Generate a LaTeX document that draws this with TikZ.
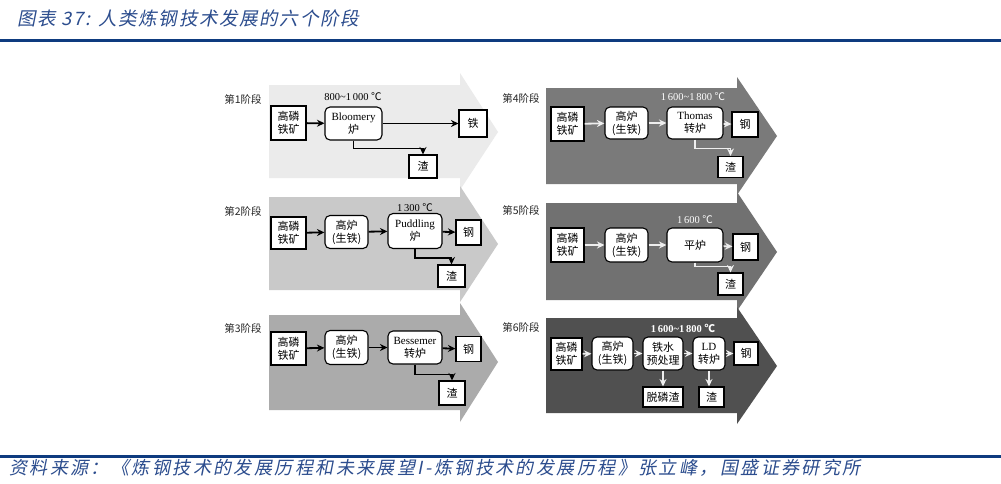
\documentclass[tikz,border=0pt]{standalone}
\usepackage{fontspec}
\setmainfont{Liberation Serif}
\newfontfamily\cjk{Noto Sans CJK SC}
\newfontfamily\cjkit[FakeSlant=0.2,LetterSpace=9]{Noto Sans CJK SC}
\newfontfamily\cjkfoot[FakeSlant=0.2,LetterSpace=13.5]{Noto Sans CJK SC}
\usetikzlibrary{arrows.meta,calc}
\definecolor{hdrblue}{HTML}{0E3B7F}
\definecolor{ttlblue}{HTML}{2C4D8E}
\definecolor{gA}{HTML}{EBEBEB}
\definecolor{gB}{HTML}{C9C9C9}
\definecolor{gC}{HTML}{ABABAB}
\definecolor{gD}{HTML}{7A7A7A}
\definecolor{gE}{HTML}{717171}
\definecolor{gF}{HTML}{505050}
\definecolor{wline}{HTML}{EEEEEE}
\begin{document}
\begin{tikzpicture}[x=1pt,y=-1pt,
  sq/.style={draw=black, fill=white, line width=1.1pt, inner sep=0pt, align=center,
             font=\cjk\fontsize{11}{13}\selectfont},
  rd/.style={sq, rounded corners=5pt},
  conn/.style={line width=1.8pt, -{Stealth[length=7.5pt,width=7pt]}},
  wconn/.style={conn, draw=wline},
  stage/.style={font=\cjk\fontsize{10.5}{12}\selectfont, text=black!85},
  temp/.style={font=\fontsize{10.5}{12}\selectfont, inner sep=0pt},
  ttl/.style={text=ttlblue, inner sep=0pt}
]
\useasboundingbox (0,0) rectangle (1001,483);
\fill[white] (0,0) rectangle (1001,483);

% header and footer
\node[ttl, anchor=west, font=\cjkit\fontsize{18.5}{21}\selectfont] (title) at (17,18) {图表 37: 人类炼钢技术发展的六个阶段};
\draw[hdrblue, line width=3pt] (0,40) -- (1001,40);
\draw[hdrblue, line width=3pt] (0,456) -- (1001,456);
\node[ttl, anchor=west, font=\cjkfoot\fontsize{18}{21}\selectfont] (src) at (9,468) {资料来源：《炼钢技术的发展历程和未来展望I-炼钢技术的发展历程》张立峰，国盛证券研究所};

% big arrows (left column)
\fill[gA] (269,85) -- (460,85) -- (460,73) -- (498,132) -- (460,190) -- (460,178) -- (269,178) -- cycle;
\fill[gB] (269,197) -- (460,197) -- (460,186) -- (498,244) -- (460,302) -- (460,290) -- (269,290) -- cycle;
\fill[gC] (269,315) -- (460,315) -- (460,303) -- (498,362) -- (460,422) -- (460,410) -- (269,410) -- cycle;
% big arrows (right column)
\fill[gD] (546,88) -- (737,88) -- (737,77) -- (777,136) -- (737,195) -- (737,184) -- (546,184) -- cycle;
\fill[gE] (546,203) -- (737,203) -- (737,192) -- (777,252) -- (737,311) -- (737,300) -- (546,300) -- cycle;
\fill[gF] (546,318) -- (737,318) -- (737,307) -- (777,366) -- (737,424) -- (737,413) -- (546,413) -- cycle;

% stage labels
\node[stage] (s1) at (243,99) {第1阶段};
\node[stage] (s2) at (243,211) {第2阶段};
\node[stage] (s3) at (243,328) {第3阶段};
\node[stage] (s4) at (521,98) {第4阶段};
\node[stage] (s5) at (521,210) {第5阶段};
\node[stage] (s6) at (521,327) {第6阶段};

% temperatures
\node[temp] (t1) at (353,97) {800\textasciitilde 1\,000 {\cjk ℃}};
\node[temp] (t2) at (415,208) {1\,300 {\cjk ℃}};
\node[temp, text=white] (t4) at (693,97) {1\,600\textasciitilde 1\,800 {\cjk ℃}};
\node[temp, text=white] (t5) at (695,220) {1\,600 {\cjk ℃}};
\node[temp, text=white, font=\bfseries\fontsize{10.5}{12}\selectfont] (t6) at (683,328) {1\,600\textasciitilde 1\,800 {\cjk ℃}};

% stage 1
\node[sq, minimum width=35pt, minimum height=34pt] (a1) at (288.5,123) {高磷\\铁矿};
\node[rd, minimum width=57pt, minimum height=33pt] (b1) at (353.5,123.5) {{\rmfamily Bloomery}\\炉};
\node[sq, minimum width=28pt, minimum height=27pt] (c1) at (473,123.5) {铁};
\node[sq, minimum width=28pt, minimum height=23pt] (d1) at (423,166.5) {渣};
\draw[conn] (a1) -- (b1);
\draw[conn] (b1) -- (c1);
\draw[conn] (b1.south) -- ++(0,8) -| (d1.north);

% stage 2
\node[sq, minimum width=35pt, minimum height=32pt] (a2) at (288.5,233) {高磷\\铁矿};
\node[rd, minimum width=43pt, minimum height=33pt] (e2) at (346.5,232) {高炉\\(生铁)};
\node[rd, minimum width=54pt, minimum height=35pt] (b2) at (415,231) {{\rmfamily Puddling}\\炉};
\node[sq, minimum width=25pt, minimum height=25pt] (c2) at (468.5,232.5) {钢};
\node[sq, minimum width=27pt, minimum height=22pt] (d2) at (451.5,276) {渣};
\draw[conn] (a2) -- (e2);
\draw[conn] (e2) -- (b2);
\draw[conn] (b2) -- (c2);
\draw[conn] (b2.south) -- ++(0,9) -| (d2.north);

% stage 3
\node[sq, minimum width=35pt, minimum height=33pt] (a3) at (288.5,348.5) {高磷\\铁矿};
\node[rd, minimum width=43pt, minimum height=34pt] (e3) at (346.5,347.5) {高炉\\(生铁)};
\node[rd, minimum width=54pt, minimum height=33pt] (b3) at (415,347.5) {{\rmfamily Bessemer}\\转炉};
\node[sq, minimum width=25pt, minimum height=25pt] (c3) at (468.5,349) {钢};
\node[sq, minimum width=26pt, minimum height=24pt] (d3) at (452,393) {渣};
\draw[conn] (a3) -- (e3);
\draw[conn] (e3) -- (b3);
\draw[conn] (b3) -- (c3);
\draw[conn] (b3.south) -- ++(0,10) -| (d3.north);

% stage 4
\node[sq, minimum width=33pt, minimum height=34pt] (a4) at (567.5,124) {高磷\\铁矿};
\node[rd, minimum width=43pt, minimum height=32pt] (e4) at (626.5,123) {高炉\\(生铁)};
\node[rd, minimum width=56pt, minimum height=32pt] (b4) at (695,123) {{\rmfamily Thomas}\\转炉};
\node[sq, minimum width=26pt, minimum height=25pt] (c4) at (745,124.5) {钢};
\node[sq, minimum width=25pt, minimum height=21pt] (d4) at (730.5,167) {渣};
\draw[wconn] (a4) -- (e4);
\draw[wconn] (e4) -- (b4);
\draw[wconn] (b4) -- (c4);
\draw[wconn] (b4.south) -- ++(0,9) -| (d4.north);

% stage 5
\node[sq, minimum width=33pt, minimum height=34pt] (a5) at (567.5,245) {高磷\\铁矿};
\node[rd, minimum width=43pt, minimum height=34pt] (e5) at (626.5,245) {高炉\\(生铁)};
\node[rd, minimum width=56pt, minimum height=34pt] (b5) at (695,245) {平炉};
\node[sq, minimum width=25pt, minimum height=26pt] (c5) at (745.5,247) {钢};
\node[sq, minimum width=25pt, minimum height=22pt] (d5) at (730.5,284) {渣};
\draw[wconn] (a5) -- (e5);
\draw[wconn] (e5) -- (b5);
\draw[wconn] (b5) -- (c5);
\draw[wconn] (b5.south) -- ++(0,4) -| (d5.north);

% stage 6
\node[sq, minimum width=31pt, minimum height=32pt] (a6) at (566.5,354) {高磷\\铁矿};
\node[rd, minimum width=41pt, minimum height=33pt] (e6) at (612.5,353.5) {高炉\\(生铁)};
\node[rd, minimum width=40pt, minimum height=33pt] (f6) at (663,353.5) {铁水\\预处理};
\node[rd, minimum width=32pt, minimum height=33pt] (b6) at (709,353.5) {{\rmfamily LD}\\转炉};
\node[sq, minimum width=24pt, minimum height=23pt] (c6) at (746,353.5) {钢};
\node[sq, minimum width=40pt, minimum height=20pt] (g6) at (663,397) {脱磷渣};
\node[sq, minimum width=25pt, minimum height=20pt] (d6) at (711.5,397) {渣};
\draw[wconn] (a6) -- (e6);
\draw[wconn] (e6) -- (f6);
\draw[wconn] (f6) -- (b6);
\draw[wconn] (b6) -- (c6);
\draw[wconn] (f6) -- (g6);
\draw[wconn] (b6.south) -- (b6.south |- d6.north);
\end{tikzpicture}
\end{document}
